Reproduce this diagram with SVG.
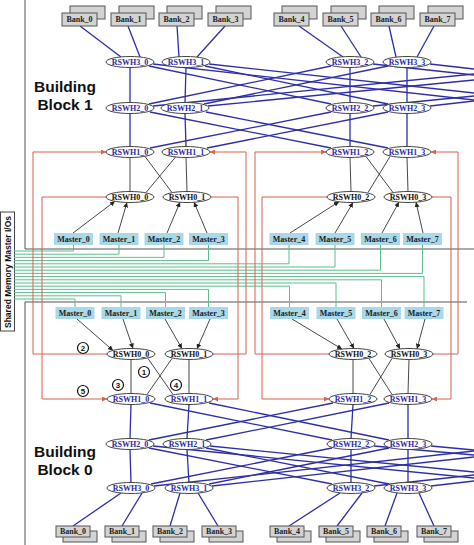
<svg xmlns="http://www.w3.org/2000/svg" width="474" height="545" viewBox="0 0 474 545">
<style>
.bk{fill:#d3d3d3;stroke:#555;stroke-width:1}
.bt{font-family:"Liberation Serif",serif;font-weight:bold;font-size:8px;fill:#222;text-anchor:middle}
.sw{fill:#fff;stroke:#444;stroke-width:1}
.st{font-family:"Liberation Serif",serif;font-weight:bold;font-size:8px;fill:#2a2aa8;text-anchor:middle}
.st0{font-family:"Liberation Serif",serif;font-weight:bold;font-size:8px;fill:#111;text-anchor:middle}
.ms{fill:#a9d8e8}
.mt{font-family:"Liberation Serif",serif;font-weight:bold;font-size:8px;fill:#1a1a1a;text-anchor:middle}
.bl line{stroke:#2e2eaa;stroke-width:1.3}
.gr line{stroke:#333;stroke-width:0.9}
.ar line{stroke:#333;stroke-width:0.9;marker-end:url(#ah)}
.rd path{stroke:#d9604f;stroke-width:1;fill:none}
.rda{marker-end:url(#rah)}
.gn path{stroke:#5cbf8c;stroke-width:1;fill:none}
.fr{stroke:#555;stroke-width:1;fill:none}
.bb{font-family:"Liberation Sans",Arial,sans-serif;font-weight:bold;font-size:15.5px;fill:#111;text-anchor:middle}
.num circle{fill:#fff;stroke:#111;stroke-width:1.2}
.num text{font-family:"Liberation Sans",Arial,sans-serif;font-weight:bold;font-size:8px;fill:#111;text-anchor:middle}
</style>
<defs>
<marker id="ah" markerWidth="6" markerHeight="5" refX="5" refY="2.5" orient="auto" markerUnits="userSpaceOnUse"><path d="M0,0 L5,2.5 L0,5 z" fill="#222"/></marker>
<marker id="rah" markerWidth="6" markerHeight="5" refX="5" refY="2.5" orient="auto" markerUnits="userSpaceOnUse"><path d="M0,0 L5,2.5 L0,5 z" fill="#d9604f"/></marker>
</defs>
<rect width="474" height="545" fill="#fff"/>

<g id="frames">
<path class="fr" d="M25,0 V249 H474"/>
<path class="fr" d="M25,545 V302 H467"/>
</g>

<g id="label-shared">
<rect x="0.5" y="212" width="14" height="119" fill="#fff" stroke="#444" stroke-width="1"/>
<text transform="translate(11,328) rotate(-90)" font-family="'Liberation Sans',Arial,sans-serif" font-weight="bold" font-size="9" fill="#111" textLength="112" lengthAdjust="spacingAndGlyphs">Shared Memory Master I/Os</text>
</g>
<g id="label-bb1"><text class="bb" x="65" y="92">Building</text><text class="bb" x="65" y="109.5">Block 1</text></g>
<g id="label-bb0"><text class="bb" x="65" y="457">Building</text><text class="bb" x="65" y="474.5">Block 0</text></g>

<g id="connectors">
<g class="gn">
<path d="M73.5,245 V251 H14"/>
<path d="M119,245 V254.2 H14"/>
<path d="M164,245 V257.4 H14"/>
<path d="M208.5,245 V260.6 H14"/>
<path d="M289,245 V263.8 H14"/>
<path d="M335,245 V267 H14"/>
<path d="M380.5,245 V270.2 H14"/>
<path d="M422.5,245 V273.4 H14"/>
<path d="M424,307 V276.6 H14"/>
<path d="M381.5,307 V279.8 H14"/>
<path d="M336,307 V283 H14"/>
<path d="M289.5,307 V286.2 H14"/>
<path d="M208.5,307 V289.4 H14"/>
<path d="M165.5,307 V292.6 H14"/>
<path d="M121,307 V295.8 H14"/>
<path d="M75,307 V299 H14"/>
</g>
<g class="rd">
<path class="rda" d="M107,354 H33 V152 H106"/>
<path class="rda" d="M106,197 H42 V399 H107"/>
<path class="rda" d="M211,197 H238 V399 H213"/>
<path class="rda" d="M213,354 H246 V152 H210"/>
<path class="rda" d="M327,197 H262 V399 H329"/>
<path class="rda" d="M329,354 H255 V152 H326"/>
<path class="rda" d="M432,197 H451 V399 H432"/>
<path class="rda" d="M433,354 H458 V152 H431"/>
</g>
<g class="bl">
<line x1="80" y1="26" x2="121" y2="57"/>
<line x1="128" y1="26" x2="140" y2="57"/>
<line x1="177" y1="26" x2="179" y2="57"/>
<line x1="225" y1="26" x2="197" y2="57"/>
<line x1="299" y1="26" x2="343" y2="57"/>
<line x1="341" y1="26" x2="361" y2="57"/>
<line x1="389" y1="26" x2="396" y2="57"/>
<line x1="434" y1="26" x2="417" y2="57"/>
<line x1="130" y1="67.5" x2="130" y2="102.5"/>
<line x1="186" y1="67.5" x2="185" y2="102.5"/>
<line x1="350" y1="67.5" x2="350" y2="102.5"/>
<line x1="407" y1="67.5" x2="407" y2="102.5"/>
<line x1="130" y1="113.5" x2="130" y2="146.5"/>
<line x1="185" y1="113.5" x2="186" y2="146.5"/>
<line x1="350" y1="113.5" x2="350" y2="146.5"/>
<line x1="407" y1="113.5" x2="407" y2="146.5"/>
<line x1="149" y1="66" x2="331" y2="104"/>
<line x1="205" y1="66" x2="388" y2="104"/>
<line x1="331" y1="66" x2="149" y2="104"/>
<line x1="388" y1="66" x2="204" y2="104"/>
<line x1="153" y1="64" x2="474" y2="100"/>
<line x1="209" y1="64" x2="474" y2="93"/>
<line x1="373" y1="64" x2="474" y2="75"/>
<line x1="430" y1="64" x2="474" y2="69"/>
<line x1="153" y1="106" x2="474" y2="74"/>
<line x1="208" y1="106" x2="474" y2="80"/>
<line x1="373" y1="106" x2="474" y2="96"/>
<line x1="430" y1="106" x2="474" y2="101"/>
<line x1="150" y1="112" x2="331" y2="148"/>
<line x1="206" y1="112" x2="388" y2="148"/>
<line x1="331" y1="112" x2="150" y2="148"/>
<line x1="388" y1="112" x2="207" y2="148"/>
<line x1="131" y1="404.5" x2="130" y2="438.5"/>
<line x1="189" y1="404.5" x2="187" y2="438.5"/>
<line x1="353" y1="404.5" x2="351" y2="438.5"/>
<line x1="408" y1="404.5" x2="408" y2="438.5"/>
<line x1="130" y1="449.5" x2="131" y2="482.5"/>
<line x1="187" y1="449.5" x2="189" y2="482.5"/>
<line x1="351" y1="449.5" x2="351" y2="482.5"/>
<line x1="408" y1="449.5" x2="408" y2="482.5"/>
<line x1="150" y1="403" x2="332" y2="440"/>
<line x1="209" y1="403" x2="389" y2="440"/>
<line x1="333" y1="403" x2="149" y2="440"/>
<line x1="389" y1="403" x2="206" y2="440"/>
<line x1="151" y1="484" x2="332" y2="448"/>
<line x1="209" y1="484" x2="389" y2="448"/>
<line x1="332" y1="484" x2="149" y2="448"/>
<line x1="389" y1="484" x2="206" y2="448"/>
<line x1="154" y1="486" x2="474" y2="451"/>
<line x1="212" y1="486" x2="474" y2="457"/>
<line x1="374" y1="486" x2="474" y2="475"/>
<line x1="431" y1="486" x2="474" y2="481"/>
<line x1="153" y1="446" x2="474" y2="478"/>
<line x1="210" y1="446" x2="474" y2="472"/>
<line x1="374" y1="446" x2="474" y2="455"/>
<line x1="431" y1="446" x2="474" y2="450"/>
<line x1="121" y1="493" x2="73" y2="526"/>
<line x1="142" y1="493" x2="122" y2="526"/>
<line x1="180" y1="493" x2="170" y2="526"/>
<line x1="198" y1="493" x2="218" y2="526"/>
<line x1="340" y1="493" x2="289" y2="526"/>
<line x1="362" y1="493" x2="337" y2="526"/>
<line x1="397" y1="493" x2="385" y2="526"/>
<line x1="419" y1="493" x2="434" y2="526"/>
</g>
<g class="gr">
<line x1="130" y1="157.5" x2="130" y2="191.5"/>
<line x1="186" y1="157.5" x2="187" y2="191.5"/>
<line x1="350" y1="157.5" x2="351" y2="191.5"/>
<line x1="407" y1="157.5" x2="408" y2="191.5"/>
<line x1="145" y1="156.5" x2="172" y2="192.5"/>
<line x1="176" y1="156.5" x2="146" y2="192.5"/>
<line x1="366" y1="156.5" x2="393" y2="192.5"/>
<line x1="390" y1="156.5" x2="368" y2="192.5"/>
<line x1="131" y1="359.5" x2="131" y2="393.5"/>
<line x1="189" y1="359.5" x2="189" y2="393.5"/>
<line x1="353" y1="359.5" x2="353" y2="393.5"/>
<line x1="409" y1="359.5" x2="408" y2="393.5"/>
<line x1="148" y1="358.5" x2="173" y2="394.5"/>
<line x1="172" y1="358.5" x2="147" y2="394.5"/>
<line x1="369" y1="358.5" x2="392" y2="394.5"/>
<line x1="392" y1="358.5" x2="370" y2="394.5"/>
</g>
<g class="ar">
<line x1="73" y1="233" x2="115" y2="201.2"/>
<line x1="118" y1="233" x2="127" y2="202.4"/>
<line x1="167" y1="233" x2="180" y2="202.2"/>
<line x1="207" y1="233" x2="194" y2="202.2"/>
<line x1="290" y1="233" x2="339" y2="201.7"/>
<line x1="335" y1="233" x2="353" y2="202.5"/>
<line x1="382" y1="233" x2="399" y2="202"/>
<line x1="423" y1="233" x2="416" y2="202.2"/>
<line x1="77" y1="319" x2="113" y2="350.5"/>
<line x1="123" y1="319" x2="133" y2="348.5"/>
<line x1="165" y1="319" x2="182" y2="348.7"/>
<line x1="210" y1="319" x2="197" y2="348.8"/>
<line x1="292" y1="319" x2="342" y2="349.1"/>
<line x1="337" y1="319" x2="354" y2="348.5"/>
<line x1="384" y1="319" x2="400" y2="348.9"/>
<line x1="425" y1="319" x2="417" y2="348.8"/>
</g>
</g>

<g id="bank1_0"><rect class="bk" x="70" y="6" width="35" height="13"/><rect class="bk" x="62" y="13" width="35" height="13"/><text class="bt" x="79.5" y="22.3">Bank_0</text></g>
<g id="bank1_1"><rect class="bk" x="119" y="6" width="35" height="13"/><rect class="bk" x="111" y="13" width="35" height="13"/><text class="bt" x="128.5" y="22.3">Bank_1</text></g>
<g id="bank1_2"><rect class="bk" x="167" y="6" width="35" height="13"/><rect class="bk" x="159" y="13" width="35" height="13"/><text class="bt" x="176.5" y="22.3">Bank_2</text></g>
<g id="bank1_3"><rect class="bk" x="216" y="6" width="35" height="13"/><rect class="bk" x="208" y="13" width="35" height="13"/><text class="bt" x="225.5" y="22.3">Bank_3</text></g>
<g id="bank1_4"><rect class="bk" x="282" y="6" width="35" height="13"/><rect class="bk" x="274" y="13" width="35" height="13"/><text class="bt" x="291.5" y="22.3">Bank_4</text></g>
<g id="bank1_5"><rect class="bk" x="331" y="6" width="35" height="13"/><rect class="bk" x="323" y="13" width="35" height="13"/><text class="bt" x="340.5" y="22.3">Bank_5</text></g>
<g id="bank1_6"><rect class="bk" x="379" y="6" width="35" height="13"/><rect class="bk" x="371" y="13" width="35" height="13"/><text class="bt" x="388.5" y="22.3">Bank_6</text></g>
<g id="bank1_7"><rect class="bk" x="428" y="6" width="35" height="13"/><rect class="bk" x="420" y="13" width="35" height="13"/><text class="bt" x="437.5" y="22.3">Bank_7</text></g>

<g id="rswh3_0_b1"><ellipse class="sw" cx="130" cy="62" rx="24" ry="5.5"/><text class="st" x="130" y="64.8">RSWH3_0</text></g>
<g id="rswh3_1_b1"><ellipse class="sw" cx="186" cy="62" rx="24" ry="5.5"/><text class="st" x="186" y="64.8">RSWH3_1</text></g>
<g id="rswh3_2_b1"><ellipse class="sw" cx="350" cy="62" rx="24" ry="5.5"/><text class="st" x="350" y="64.8">RSWH3_2</text></g>
<g id="rswh3_3_b1"><ellipse class="sw" cx="407" cy="62" rx="24" ry="5.5"/><text class="st" x="407" y="64.8">RSWH3_3</text></g>
<g id="rswh2_0_b1"><ellipse class="sw" cx="130" cy="108" rx="24" ry="5.5"/><text class="st" x="130" y="110.8">RSWH2_0</text></g>
<g id="rswh2_1_b1"><ellipse class="sw" cx="185" cy="108" rx="24" ry="5.5"/><text class="st" x="185" y="110.8">RSWH2_1</text></g>
<g id="rswh2_2_b1"><ellipse class="sw" cx="350" cy="108" rx="24" ry="5.5"/><text class="st" x="350" y="110.8">RSWH2_2</text></g>
<g id="rswh2_3_b1"><ellipse class="sw" cx="407" cy="108" rx="24" ry="5.5"/><text class="st" x="407" y="110.8">RSWH2_3</text></g>
<g id="rswh1_0_b1"><ellipse class="sw" cx="130" cy="152" rx="24" ry="5.5"/><text class="st" x="130" y="154.8">RSWH1_0</text></g>
<g id="rswh1_1_b1"><ellipse class="sw" cx="186" cy="152" rx="24" ry="5.5"/><text class="st" x="186" y="154.8">RSWH1_1</text></g>
<g id="rswh1_2_b1"><ellipse class="sw" cx="350" cy="152" rx="24" ry="5.5"/><text class="st" x="350" y="154.8">RSWH1_2</text></g>
<g id="rswh1_3_b1"><ellipse class="sw" cx="407" cy="152" rx="24" ry="5.5"/><text class="st" x="407" y="154.8">RSWH1_3</text></g>
<g id="rswh0_0_b1"><ellipse class="sw" cx="130" cy="197" rx="24" ry="5.5"/><text class="st0" x="130" y="199.8">RSWH0_0</text></g>
<g id="rswh0_1_b1"><ellipse class="sw" cx="187" cy="197" rx="24" ry="5.5"/><text class="st0" x="187" y="199.8">RSWH0_1</text></g>
<g id="rswh0_2_b1"><ellipse class="sw" cx="351" cy="197" rx="24" ry="5.5"/><text class="st0" x="351" y="199.8">RSWH0_2</text></g>
<g id="rswh0_3_b1"><ellipse class="sw" cx="408" cy="197" rx="24" ry="5.5"/><text class="st0" x="408" y="199.8">RSWH0_3</text></g>

<g id="master1_0"><rect class="ms" x="54" y="233" width="39" height="12"/><text class="mt" x="73.5" y="241.8">Master_0</text></g>
<g id="master1_1"><rect class="ms" x="99.5" y="233" width="39" height="12"/><text class="mt" x="119" y="241.8">Master_1</text></g>
<g id="master1_2"><rect class="ms" x="144.5" y="233" width="39" height="12"/><text class="mt" x="164" y="241.8">Master_2</text></g>
<g id="master1_3"><rect class="ms" x="189" y="233" width="39" height="12"/><text class="mt" x="208.5" y="241.8">Master_3</text></g>
<g id="master1_4"><rect class="ms" x="269.5" y="233" width="39" height="12"/><text class="mt" x="289" y="241.8">Master_4</text></g>
<g id="master1_5"><rect class="ms" x="315.5" y="233" width="39" height="12"/><text class="mt" x="335" y="241.8">Master_5</text></g>
<g id="master1_6"><rect class="ms" x="361" y="233" width="39" height="12"/><text class="mt" x="380.5" y="241.8">Master_6</text></g>
<g id="master1_7"><rect class="ms" x="403" y="233" width="39" height="12"/><text class="mt" x="422.5" y="241.8">Master_7</text></g>

<g id="master0_0"><rect class="ms" x="55.5" y="307" width="39" height="12"/><text class="mt" x="75" y="315.8">Master_0</text></g>
<g id="master0_1"><rect class="ms" x="101.5" y="307" width="39" height="12"/><text class="mt" x="121" y="315.8">Master_1</text></g>
<g id="master0_2"><rect class="ms" x="146" y="307" width="39" height="12"/><text class="mt" x="165.5" y="315.8">Master_2</text></g>
<g id="master0_3"><rect class="ms" x="189" y="307" width="39" height="12"/><text class="mt" x="208.5" y="315.8">Master_3</text></g>
<g id="master0_4"><rect class="ms" x="270" y="307" width="39" height="12"/><text class="mt" x="289.5" y="315.8">Master_4</text></g>
<g id="master0_5"><rect class="ms" x="316.5" y="307" width="39" height="12"/><text class="mt" x="336" y="315.8">Master_5</text></g>
<g id="master0_6"><rect class="ms" x="362" y="307" width="39" height="12"/><text class="mt" x="381.5" y="315.8">Master_6</text></g>
<g id="master0_7"><rect class="ms" x="404.5" y="307" width="39" height="12"/><text class="mt" x="424" y="315.8">Master_7</text></g>

<g id="rswh0_0_b0"><ellipse class="sw" cx="131" cy="354" rx="24" ry="5.5"/><text class="st0" x="131" y="356.8">RSWH0_0</text></g>
<g id="rswh0_1_b0"><ellipse class="sw" cx="189" cy="354" rx="24" ry="5.5"/><text class="st0" x="189" y="356.8">RSWH0_1</text></g>
<g id="rswh0_2_b0"><ellipse class="sw" cx="353" cy="354" rx="24" ry="5.5"/><text class="st0" x="353" y="356.8">RSWH0_2</text></g>
<g id="rswh0_3_b0"><ellipse class="sw" cx="409" cy="354" rx="24" ry="5.5"/><text class="st0" x="409" y="356.8">RSWH0_3</text></g>
<g id="rswh1_0_b0"><ellipse class="sw" cx="131" cy="399" rx="24" ry="5.5"/><text class="st" x="131" y="401.8">RSWH1_0</text></g>
<g id="rswh1_1_b0"><ellipse class="sw" cx="189" cy="399" rx="24" ry="5.5"/><text class="st" x="189" y="401.8">RSWH1_1</text></g>
<g id="rswh1_2_b0"><ellipse class="sw" cx="353" cy="399" rx="24" ry="5.5"/><text class="st" x="353" y="401.8">RSWH1_2</text></g>
<g id="rswh1_3_b0"><ellipse class="sw" cx="408" cy="399" rx="24" ry="5.5"/><text class="st" x="408" y="401.8">RSWH1_3</text></g>
<g id="rswh2_0_b0"><ellipse class="sw" cx="130" cy="444" rx="24" ry="5.5"/><text class="st" x="130" y="446.8">RSWH2_0</text></g>
<g id="rswh2_1_b0"><ellipse class="sw" cx="187" cy="444" rx="24" ry="5.5"/><text class="st" x="187" y="446.8">RSWH2_1</text></g>
<g id="rswh2_2_b0"><ellipse class="sw" cx="351" cy="444" rx="24" ry="5.5"/><text class="st" x="351" y="446.8">RSWH2_2</text></g>
<g id="rswh2_3_b0"><ellipse class="sw" cx="408" cy="444" rx="24" ry="5.5"/><text class="st" x="408" y="446.8">RSWH2_3</text></g>
<g id="rswh3_0_b0"><ellipse class="sw" cx="131" cy="488" rx="24" ry="5.5"/><text class="st" x="131" y="490.8">RSWH3_0</text></g>
<g id="rswh3_1_b0"><ellipse class="sw" cx="189" cy="488" rx="24" ry="5.5"/><text class="st" x="189" y="490.8">RSWH3_1</text></g>
<g id="rswh3_2_b0"><ellipse class="sw" cx="351" cy="488" rx="24" ry="5.5"/><text class="st" x="351" y="490.8">RSWH3_2</text></g>
<g id="rswh3_3_b0"><ellipse class="sw" cx="408" cy="488" rx="24" ry="5.5"/><text class="st" x="408" y="490.8">RSWH3_3</text></g>

<g id="bank0_0"><rect class="bk" x="63" y="531" width="34" height="11"/><rect class="bk" x="56" y="526" width="34" height="11"/><text class="bt" x="73" y="534.3">Bank_0</text></g>
<g id="bank0_1"><rect class="bk" x="112" y="531" width="34" height="11"/><rect class="bk" x="105" y="526" width="34" height="11"/><text class="bt" x="122" y="534.3">Bank_1</text></g>
<g id="bank0_2"><rect class="bk" x="160" y="531" width="34" height="11"/><rect class="bk" x="153" y="526" width="34" height="11"/><text class="bt" x="170" y="534.3">Bank_2</text></g>
<g id="bank0_3"><rect class="bk" x="209" y="531" width="34" height="11"/><rect class="bk" x="202" y="526" width="34" height="11"/><text class="bt" x="219" y="534.3">Bank_3</text></g>
<g id="bank0_4"><rect class="bk" x="277" y="531" width="34" height="11"/><rect class="bk" x="270" y="526" width="34" height="11"/><text class="bt" x="287" y="534.3">Bank_4</text></g>
<g id="bank0_5"><rect class="bk" x="326" y="531" width="34" height="11"/><rect class="bk" x="319" y="526" width="34" height="11"/><text class="bt" x="336" y="534.3">Bank_5</text></g>
<g id="bank0_6"><rect class="bk" x="374" y="531" width="34" height="11"/><rect class="bk" x="367" y="526" width="34" height="11"/><text class="bt" x="384" y="534.3">Bank_6</text></g>
<g id="bank0_7"><rect class="bk" x="424" y="531" width="34" height="11"/><rect class="bk" x="417" y="526" width="34" height="11"/><text class="bt" x="434" y="534.3">Bank_7</text></g>

<g id="step-labels" class="num">
<g id="step2"><circle cx="83" cy="348" r="5.5"/><text x="83" y="350.9">2</text></g>
<g id="step1"><circle cx="144" cy="372" r="5.5"/><text x="144" y="374.9">1</text></g>
<g id="step3"><circle cx="118" cy="385" r="5.5"/><text x="118" y="387.9">3</text></g>
<g id="step4"><circle cx="176" cy="385" r="5.5"/><text x="176" y="387.9">4</text></g>
<g id="step5"><circle cx="83" cy="391" r="5.5"/><text x="83" y="393.9">5</text></g>
</g>
</svg>
